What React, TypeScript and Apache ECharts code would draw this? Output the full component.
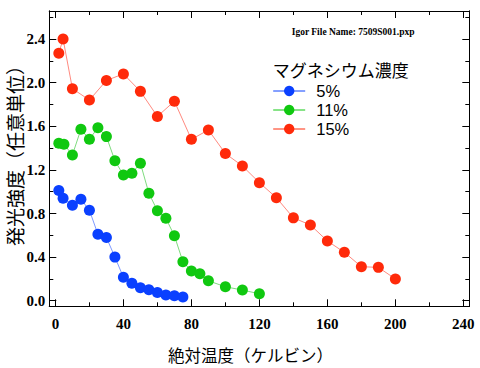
import React, { useEffect, useRef } from "react";
import * as echarts from "echarts";

const seriesNames = ["5%", "11%", "15%"];
const temps5 = [2, 4.5, 10, 15, 20, 25, 30, 35, 40, 45, 50, 55, 60, 65, 70, 75];
const int5 = [1.01, 0.94, 0.875, 0.93, 0.83, 0.61, 0.58, 0.4, 0.215, 0.16, 0.12, 0.1, 0.075, 0.052, 0.046, 0.034];
const temps11 = [2, 5, 10, 15, 20, 25, 30, 35, 40, 45, 50, 55, 60, 65, 70, 75, 80, 85, 90, 100, 110, 120];
const int11 = [1.444, 1.435, 1.337, 1.572, 1.481, 1.587, 1.505, 1.284, 1.153, 1.169, 1.261, 0.985, 0.826, 0.756, 0.596, 0.358, 0.272, 0.248, 0.183, 0.128, 0.098, 0.064];
const temps15 = [2, 4.5, 10, 20, 30, 40, 50, 60, 70, 80, 90, 100, 110, 120, 130, 140, 150, 160, 170, 180, 190, 200];
const int15 = [2.27, 2.4, 1.945, 1.84, 2.02, 2.08, 1.92, 1.69, 1.83, 1.48, 1.566, 1.35, 1.236, 1.083, 0.945, 0.76, 0.695, 0.548, 0.444, 0.312, 0.306, 0.2];

const xMajor = [0, 40, 80, 120, 160, 200, 240];
const xMinor = [20, 60, 100, 140, 180, 220];
const yMajor = [0, 0.4, 0.8, 1.2, 1.6, 2.0, 2.4];
const yMinor = [0.2, 0.6, 1.0, 1.4, 1.8, 2.2, 2.6];

const markerColors = ["#0a40ff", "#10c810", "#ff2a0a"];
const lineColors = ["#7f9bff", "#7fdc7f", "#ff8a80"];

const X_MIN = -3.6, X_MAX = 243.5, Y_MIN = -0.051, Y_MAX = 2.657;

const labelFont = { fontFamily: "Liberation Serif", fontWeight: "bold" as const, fontSize: 15, color: "#000" };
const cjk = "Noto Sans CJK JP";

function xAxis(position: string, ticks: number[], len: number, labels: boolean) {
  return {
    type: "value", position, min: X_MIN, max: X_MAX,
    axisLine: { show: true, onZero: false, lineStyle: { color: "#000", width: 1 } },
    axisTick: { show: true, inside: true, length: len, customValues: ticks, lineStyle: { color: "#000", width: 1 } },
    axisLabel: labels ? { show: true, customValues: ticks, margin: 10, ...labelFont } : { show: false },
    splitLine: { show: false },
  };
}
function yAxis(position: string, ticks: number[], len: number, labels: boolean) {
  return {
    type: "value", position, min: Y_MIN, max: Y_MAX,
    axisLine: { show: true, onZero: false, lineStyle: { color: "#000", width: 1 } },
    axisTick: { show: true, inside: true, length: len, customValues: ticks, lineStyle: { color: "#000", width: 1 } },
    axisLabel: labels
      ? { show: true, customValues: ticks, margin: 4, formatter: (v: number) => v.toFixed(1), ...labelFont }
      : { show: false },
    splitLine: { show: false },
  };
}

export default function App() {
  const ref = useRef<HTMLDivElement>(null);
  useEffect(() => {
    if (!ref.current) return;
    const chart = echarts.init(ref.current, null, { renderer: "svg" });
    const xs = [temps5, temps11, temps15];
    const ys = [int5, int11, int15];
    chart.setOption({
      animation: false,
      backgroundColor: "#fff",
      grid: { left: 49.3, right: 10.7, top: 11, bottom: 61.7, containLabel: false },
      xAxis: [
        xAxis("bottom", xMajor, 7, true),
        xAxis("bottom", xMinor, 4, false),
        xAxis("top", xMajor, 7, false),
        xAxis("top", xMinor, 4, false),
      ],
      yAxis: [
        yAxis("left", yMajor, 7, true),
        yAxis("left", yMinor, 4, false),
        yAxis("right", yMajor, 7, false),
        yAxis("right", yMinor, 4, false),
      ],
      legend: {
        orient: "vertical",
        left: 272.7,
        top: 82.5,
        padding: 0,
        itemWidth: 32,
        itemHeight: 13,
        itemGap: 2,
        textStyle: { fontFamily: "Liberation Sans", fontSize: 16.5, color: "#000", lineHeight: 17, padding: [0, 0, 0, 6] },
        data: seriesNames.map((n, i) => ({ name: n, lineStyle: { color: markerColors[i], width: 1, opacity: 1 } })),
      },
      graphic: [
        {
          type: "text", left: 291.7, top: 26.5,
          style: { text: "Igor File Name: 7509S001.pxp", fontFamily: "Liberation Serif", fontWeight: "bold", fontSize: 9.5, fill: "#000" },
        },
        {
          type: "text", x: 272.7, y: 69,
          style: { text: "マグネシウム濃度", fontFamily: cjk, fontSize: 17, lineHeight: 17, fill: "#000", verticalAlign: "middle", align: "left" },
        },
        {
          type: "text", x: 250.5, y: 355,
          style: { text: "絶対温度（ケルビン）", fontFamily: cjk, fontSize: 16.5, fill: "#000", align: "center", verticalAlign: "middle" },
        },
        {
          type: "text", x: 14, y: 151, rotation: Math.PI / 2,
          style: { text: "発光強度（任意単位）", fontFamily: cjk, fontSize: 19, fill: "#000", align: "center", verticalAlign: "middle" },
        },
      ],
      series: seriesNames.map((n, i) => ({
        name: n,
        type: "line",
        xAxisIndex: 0,
        yAxisIndex: 0,
        symbol: "circle",
        symbolSize: 11,
        data: xs[i].map((x, j) => [x, ys[i][j]]),
        itemStyle: { color: markerColors[i] },
        lineStyle: { color: lineColors[i], width: 1 },
        z: 3 + i,
      })),
    });
    return () => chart.dispose();
  }, []);
  return <div ref={ref} style={{ position: "fixed", left: 0, top: 0, width: 480, height: 368 }} />;
}
